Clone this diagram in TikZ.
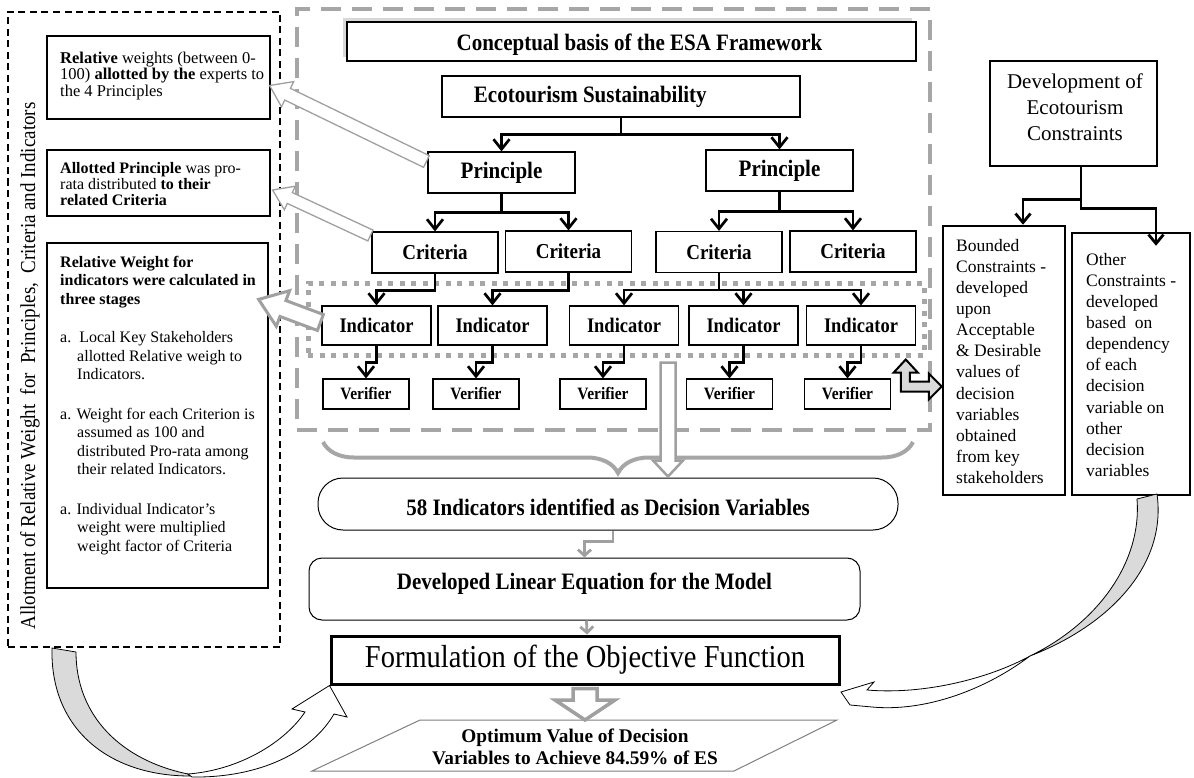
\documentclass[tikz,border=0pt]{standalone}
\usepackage{fontspec}
\setmainfont{Liberation Serif}
\usetikzlibrary{arrows.meta,calc,decorations.pathreplacing,shadows}
\definecolor{grayD}{RGB}{166,166,166}
\definecolor{grayA}{RGB}{160,160,160}
\definecolor{bandgray}{RGB}{218,218,218}
\newcommand\myfs[2]{\fontsize{#1}{#2}\selectfont}
\newcommand\ty[1]{\scalebox{1}[1.12]{#1}}
\newcommand\fatarrow[6]{%
  \coordinate (fas) at (#2);
  \coordinate (fae) at (#3);
  \coordinate (fah) at ($(fae)!#6!(fas)$);
  \draw[#1] ($(fas)!#4!90:(fae)$) -- ($(fah)!#4!90:(fae)$) -- ($(fah)!#5!90:(fae)$) -- (fae)
     -- ($(fah)!#5!-90:(fae)$) -- ($(fah)!#4!-90:(fae)$) -- ($(fas)!#4!-90:(fae)$) -- cycle;}
\begin{document}
\begin{tikzpicture}[x=1pt,y=-1pt,line join=miter,
  bx/.style={draw, line width=1.2pt, fill=white, inner sep=0pt},
  wh/.style 2 args={minimum width=#1pt, minimum height=#2pt},
  prin/.style={bx, wh={147}{41}, font=\bfseries\myfs{21}{24}},
  crit/.style={bx, wh={126}{41}, font=\bfseries\myfs{19}{22}},
  indi/.style={bx, wh={109}{39}, font=\bfseries\myfs{18.5}{22}},
  veri/.style={bx, wh={86}{30}, font=\bfseries\myfs{15.5}{18}},
  treeln/.style={line width=2.7pt, -{Straight Barb[length=10pt, width=16pt]}},
  rtree/.style={line width=2.8pt, -{Straight Barb[length=9pt, width=15pt]}},
  grayconn/.style={draw=grayA, line width=2.8pt, -{Straight Barb[length=6pt, width=13pt]}},
  hollow/.style={draw=grayA, line width=1.3pt, fill=white},
  hollowB/.style={draw=grayA, line width=3pt, fill=white},
  curv/.style={draw=black, line width=0.8pt},
  ltxt/.style={anchor=north west, align=left, inner sep=0pt, font=\myfs{16}{16.3}},
  rtxt/.style={anchor=north west, align=left, inner sep=0pt, font=\myfs{17.5}{21.1}}]
\useasboundingbox (0,0) rectangle (1194,778);
\fill[white] (0,0) rectangle (1194,778);

% ---------- background frames ----------
\node[draw, line width=2.2pt, dash pattern=on 7pt off 4.5pt, wh={272}{635}] (lbox) at (144,329.5) {};
\node[draw=grayD, line width=4pt, dash pattern=on 20pt off 11pt, wh={633}{421}] (cbox) at (613.5,219.5) {};
\node[draw=grayD, line width=5pt, dash pattern=on 5pt off 6.5pt, wh={616}{72}] (dbox) at (616,319) {};

% ---------- left column ----------
\node[rotate=90, font=\myfs{19}{22}] (vlab) at (30,366) {\ty{Allotment of Relative Weight\ \ for\ \ Principles,\ \ Criteria and Indicators}};
\node[bx, wh={223}{83}] (b1) at (158.5,77.5) {};
\node[ltxt, font=\myfs{16.5}{16.3}] (t1) at (60,52) {\textbf{Relative} weights (between 0-\\100) \textbf{allotted by the} experts to\\the 4 Principles};
\node[bx, wh={223}{66}] (b2) at (158.5,183) {};
\node[ltxt] (t2) at (60,162) {\textbf{Allotted Principle} was pro-\\rata distributed \textbf{to their}\\\textbf{related Criteria}};
\node[bx, wh={221}{345}] (b3) at (157.5,415.5) {};
\node[ltxt, font=\myfs{16}{18.5}] (t3) at (60,256) {\textbf{Relative Weight for}\\\textbf{indicators were calculated in}\\\textbf{three stages}\\[20pt]
a.\ \ Local Key Stakeholders\\\hspace*{17pt}allotted Relative weigh to\\\hspace*{17pt}Indicators.\\[21pt]
a. Weight for each Criterion is\\\hspace*{17pt}assumed as 100 and\\\hspace*{17pt}distributed Pro-rata among\\\hspace*{17pt}their related Indicators.\\[21pt]
a. Individual Indicator's\\\hspace*{17pt}weight were multiplied\\\hspace*{17pt}weight factor of Criteria};

% ---------- central hierarchy ----------
\node[bx, line width=1.4pt, wh={569}{39}, drop shadow={shadow xshift=-4pt, shadow yshift=4pt, fill=gray!50, opacity=0.6}] (concept) at (631.5,41.5) {};
\node[font=\bfseries\myfs{21}{24}] (tconcept) at ($(concept.center)+(8,3)$) {\ty{Conceptual basis of the ESA Framework}};
\node[bx, wh={358}{41}] (es) at (621,96.5) {};
\node[font=\bfseries\myfs{21}{24}, anchor=west] (tes) at ($(es.west)+(29,0)$) {\ty{Ecotourism Sustainability}};

\node[prin] (pL) at (501.5,172.5) {\ty{Principle}};
\node[prin] (pR) at (779.5,170.5) {\ty{Principle}};
\node[crit] (c1) at (435,252.5) {\ty{Criteria}};
\node[crit] (c2) at (568.5,251.5) {\ty{Criteria}};
\node[crit] (c3) at (719,252) {\ty{Criteria}};
\node[crit] (c4) at (853,251.5) {\ty{Criteria}};
\node[indi] (i1) at (376.5,325.5) {\ty{Indicator}};
\node[indi] (i2) at (492.5,325.5) {\ty{Indicator}};
\node[indi] (i3) at (624,325.5) {\ty{Indicator}};
\node[indi] (i4) at (743.5,325.5) {\ty{Indicator}};
\node[indi] (i5) at (861,325.5) {\ty{Indicator}};
\node[veri] (v1) at (366,394) {\ty{Verifier}};
\node[veri] (v2) at (476,394) {\ty{Verifier}};
\node[veri] (v3) at (603,394) {\ty{Verifier}};
\node[veri] (v4) at (729.5,394) {\ty{Verifier}};
\node[veri] (v5) at (847.5,394) {\ty{Verifier}};

\draw[treeln] (es.south) -- ++(0,17) -| (pL.north);
\draw[treeln] (es.south) -- ++(0,17) -| (pR.north);
\draw[treeln] (pL.south) -- ++(0,19) -| (c1.north);
\draw[treeln] (pL.south) -- ++(0,19) -| (c2.north);
\draw[treeln] (pR.south) -- ++(0,20) -| (c3.north);
\draw[treeln] (pR.south) -- ++(0,20) -| (c4.north);
\draw[treeln] (c1.south) -- ++(0,17) -| (i1.north);
\draw[treeln] (c2.south) -- ++(0,18) -| (i2.north);
\draw[treeln] (c3.south) -- ++(0,17) -| (i3.north);
\draw[treeln] (c3.south) -- ++(0,17) -| (i4.north);
\draw[treeln] (c3.south) -- ++(0,17) -| (i5.north);
\draw[treeln] (i1.south) -- ++(0,17) -| (v1.north);
\draw[treeln] (i2.south) -- ++(0,17) -| (v2.north);
\draw[treeln] (i3.south) -- ++(0,17) -| (v3.north);
\draw[treeln] (i4.south) -- ++(0,17) -| (v4.north);
\draw[treeln] (i5.south) -- ++(0,17) -| (v5.north);

% hollow arrows to the left boxes
\fatarrow{hollow}{$(pL.west)+(-1,-11)$}{$(b1.east)+(-1,8)$}{6.5pt}{14pt}{20pt}
\fatarrow{hollow}{$(c1.west)+(-1,-17)$}{$(b2.east)+(2,7)$}{6pt}{13pt}{19pt}
\fatarrow{hollowB}{$(i1.west)+(-1,-3)$}{$(b3.north east)+(-10,57)$}{8.5pt}{19pt}{26pt}

% brace
\coordinate (brL) at (323,442);
\coordinate (brR) at (913,442);
\draw[grayD, line width=4pt, decorate, decoration={brace, mirror, amplitude=31pt}] (brL) -- (brR);

% ---------- lower flow ----------
\node[bx, line width=1pt, rounded corners=25pt, wh={580}{52}] (n58) at (608,504) {};
\node[font=\bfseries\myfs{21}{24}] (t58) at ($(n58.center)+(0,3)$) {\ty{58 Indicators identified as Decision Variables}};
\fatarrow{hollowB, line width=2.5pt}{$(dbox.south)+(52,5)$}{$(n58.north)+(60,-1)$}{7.5pt}{15pt}{16pt}

\node[bx, line width=1pt, rounded corners=13pt, wh={551}{62}] (dle) at (584.5,589) {};
\node[font=\bfseries\myfs{21}{24}] (tdle) at ($(dle.center)+(0,-5)$) {\ty{Developed Linear Equation for the Model}};
\draw[grayconn] ($(n58.south)+(5,0)$) -- ++(0,11) -| (dle.north);

\node[draw, line width=3pt, fill=white, inner sep=0pt, wh={508}{48}, font=\myfs{28.5}{30}] (form) at (585,660) {\ty{Formulation of the Objective Function}};
\draw[grayconn] ($(dle.south)+(2,0)$) -- ($(form.north)+(2,0)$);

\coordinate (o1) at (420,720);
\coordinate (o2) at (837,720);
\coordinate (o3) at (734,771);
\coordinate (o4) at (312,771);
\draw[draw=gray, line width=1pt] (o1) -- (o2) -- (o3) -- (o4) -- cycle;
\node[font=\bfseries\myfs{19.3}{22}, align=center] (opt) at (575,747) {Optimum Value of Decision\\Variables to Achieve 84.59\% of ES};
\fatarrow{hollowB, line width=3.5pt}{$(form.south)+(0,3)$}{585,720}{12pt}{30pt}{20pt}

% ---------- right column ----------
\node[draw, line width=2.8pt, fill=white, wh={167}{105}] (dev) at (1073.5,113.5) {};
\node[align=center, font=\myfs{21}{26}] (tdev) at (1075,107) {Development of\\Ecotourism\\Constraints};
\node[draw, line width=2.5pt, fill=white, wh={122}{269}] (bnd) at (1004,360.5) {};
\node[rtxt] (tbnd) at (956,239) {Bounded\\Constraints -\\developed\\upon\\Acceptable\\\& Desirable\\values of\\decision\\variables\\obtained\\from key\\stakeholders};
\node[draw, line width=2.5pt, fill=white, wh={118}{262}] (oth) at (1131,364) {};
\node[rtxt] (toth) at (1086,253) {Other\\Constraints -\\developed\\based\ \ on\\dependency\\of each\\decision\\variable on\\other\\decision\\variables};
\draw[rtree] ($(dev.south)+(7.5,0)$) -- ++(0,32) -| ($(bnd.north)+(19,0)$);
\draw[rtree] ($(dev.south)+(7.5,0)$) -- ++(0,41) -| ($(oth.north)+(25,14)$);

% double-headed L arrow
\begin{scope}[shift={($(bnd.west)+(0,26)$)}]
\draw[fill=bandgray, line width=2pt] (-41,-14) -- (-48,-14) -- (-36,-27) -- (-24,-14) -- (-32,-14) -- (-32,-5)
  -- (-13,-5) -- (-13,-13) -- (0,0) -- (-13,13) -- (-13,5) -- (-41,5) -- cycle;
\end{scope}

% ---------- curved arrows ----------
\draw[curv, fill=bandgray] (52,648) .. controls (50,730) and (110,776) .. (190,776) -- (188,774)
  .. controls (120,760) and (76,715) .. (76,652) -- cycle;
\draw[curv, fill=white] (188,774) .. controls (240,770) and (285,742) .. (305,712) -- (292,709)
  -- (form.south west) -- (347,717) -- (334,714) .. controls (312,752) and (260,778) .. (192,777) -- cycle;
\draw[curv, fill=bandgray] (1137,499) .. controls (1142,560) and (1100,622) .. (1030,656)
  .. controls (1110,625) and (1167,565) .. (1157,494) -- cycle;
\draw[curv, fill=white] (1030,656) .. controls (985,690) and (925,712) .. (872,707) -- (850,705)
  -- (841,692) -- (874,682) -- (867,690) .. controls (925,695) and (990,678) .. (1030,656) -- cycle;
\end{tikzpicture}
\end{document}
